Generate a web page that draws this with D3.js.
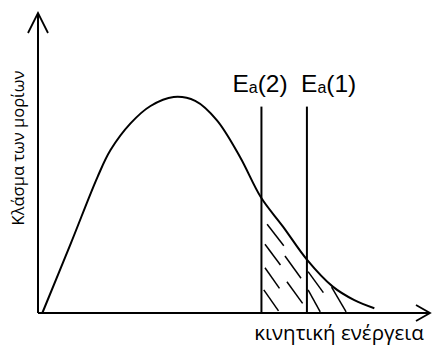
<!DOCTYPE html>
<html><head><meta charset="utf-8">
<script src="https://cdn.jsdelivr.net/npm/d3@7"></script>
<style>
html,body{margin:0;padding:0;background:#fff;}
svg{display:block;}
</style></head>
<body>
<script>
// Data (arbitrary units: energy 0-100, fraction 0-100)
const energy   = [1.1, 8.4, 15.2, 18.5, 23.6, 28.7, 34.6, 40.1, 45.6, 51.5, 56.9, 62.5, 68.6, 75.2, 80.7, 85.8];
const fraction = [0, 23.3, 45.4, 54.3, 63.2, 69.0, 72.0, 70.7, 64.3, 52.1, 38.5, 28.8, 17.8, 8.8, 4.3, 1.6];
const eaLabels = ["(2)", "(1)"];
const eaValues = [57.0, 68.6];
const eaLabelStart = [49.6, 67.1];
const eaTop = 68.8;
// hatch dashes: start/end in data units
const hatchX1 = [58.45, 57.9, 63.0, 57.9, 63.5, 57.6, 68.9, 68.9, 74.9];
const hatchY1 = [29.6, 22.9, 19.0, 15.1, 10.4, 7.7, 13.8, 7.7, 8.6];
const hatchX2 = [62.7, 61.85, 67.1, 61.6, 67.5, 61.35, 72.8, 72.0, 78.6];
const hatchY2 = [22.4, 16.0, 11.6, 8.2, 3.2, 0.7, 6.8, 0.4, 0.4];
const xTitle = "κινητική ενέργεια";
const yTitle = "Κλάσμα των μορίων";

const W = 432, H = 348;
const svg = d3.select("body").append("svg").attr("width", W).attr("height", H);
const x = d3.scaleLinear().domain([0, 100]).range([38, 430]);
const y = d3.scaleLinear().domain([0, 100]).range([313, 13]);

const g = svg.append("g").attr("fill", "none").attr("stroke", "#000").attr("stroke-width", 2);

// axes
g.append("line").attr("x1", x(0)).attr("x2", x(0)).attr("y1", y(0)).attr("y2", y(100));
g.append("line").attr("x1", x(0)).attr("x2", x(100)).attr("y1", y(0)).attr("y2", y(0));
g.append("path").attr("stroke-width", 1.8)
  .attr("d", `M${x(0)-10},${y(100)+20}L${x(0)},${y(100)}L${x(0)+10},${y(100)+20}`);
g.append("path").attr("stroke-width", 1.8)
  .attr("d", `M${x(100)-14},${y(0)-8}L${x(100)},${y(0)}L${x(100)-14},${y(0)+8}`);

// curve
const pts = energy.map((e, i) => [e, fraction[i]]);
const line = d3.line().x(d => x(d[0])).y(d => y(d[1])).curve(d3.curveCatmullRom.alpha(0.5));
g.append("path").attr("d", line(pts));

// Ea lines
g.selectAll(".ea").data(eaValues).join("line")
  .attr("x1", d => x(d)).attr("x2", d => x(d))
  .attr("y1", y(eaTop)).attr("y2", y(0));

// hatch
g.selectAll(".h").data(hatchX1).join("line").attr("stroke-width", 1.5)
  .attr("x1", (d, i) => x(hatchX1[i])).attr("y1", (d, i) => y(hatchY1[i]))
  .attr("x2", (d, i) => x(hatchX2[i])).attr("y2", (d, i) => y(hatchY2[i]));

// Ea labels
const lab = svg.selectAll(".lab").data(eaLabelStart).join("text")
  .attr("x", d => x(d)).attr("y", 92)
  .attr("font-family", "Liberation Sans, Arial, sans-serif").attr("font-size", 24.5).attr("fill", "#000");
lab.append("tspan").text("E");
lab.append("tspan").attr("font-size", 16).attr("dy", 1).text("a");
lab.append("tspan").attr("dy", -1).text((d, i) => eaLabels[i]);

// titles
svg.append("text").attr("x", 339).attr("y", 340).attr("text-anchor", "middle")
  .attr("font-family", "Open Sans, sans-serif").attr("font-size", 20.5).attr("fill", "#000")
  .text(xTitle);
svg.append("text").attr("transform", "translate(24,148) rotate(-90)").attr("text-anchor", "middle")
  .attr("font-family", "Open Sans, sans-serif").attr("font-size", 16.5).attr("fill", "#000")
  .text(yTitle);
</script>
</body></html>
